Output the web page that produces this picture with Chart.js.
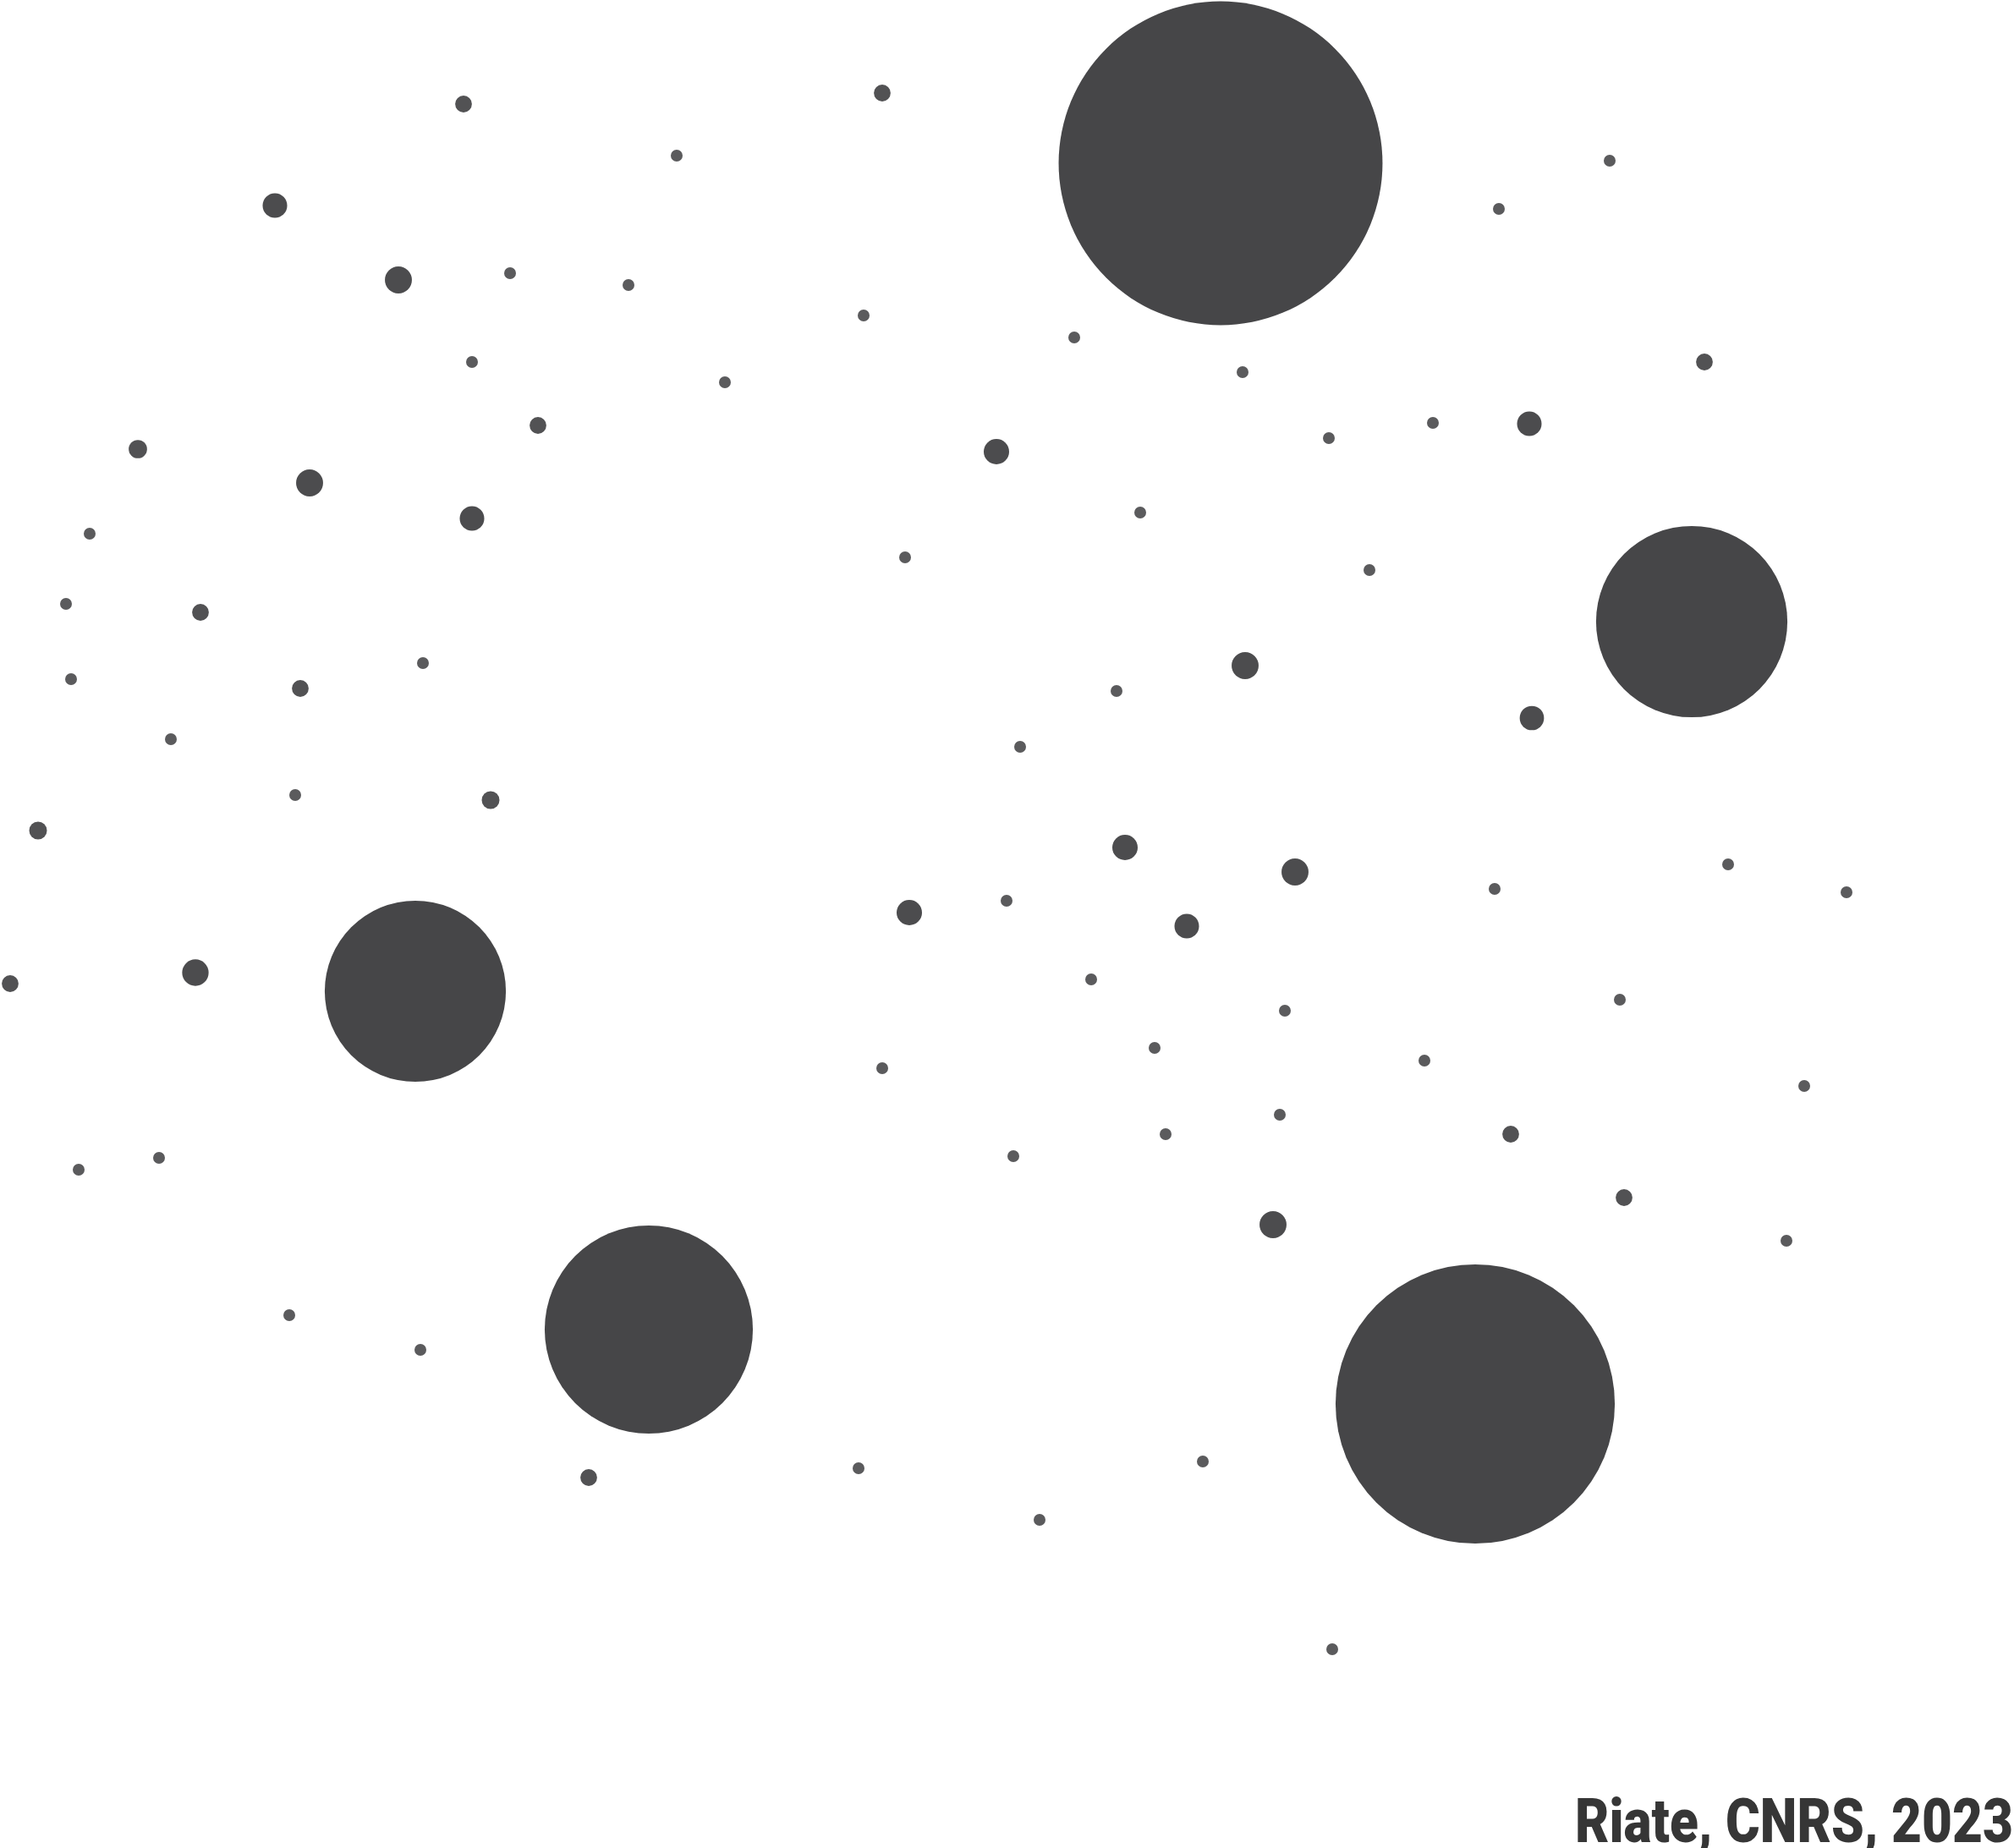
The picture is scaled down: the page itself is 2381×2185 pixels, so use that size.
<!DOCTYPE html>
<html>
<head>
<meta charset="utf-8">
<title>Riate, CNRS, 2023</title>
<script src="https://cdn.jsdelivr.net/npm/chart.js@4.4.1/dist/chart.umd.min.js"></script>
<style>
  html, body { margin: 0; padding: 0; background: #ffffff; }
  #map { display: block; }
</style>
</head>
<body>
<canvas id="map" width="2381" height="2185"></canvas>
<script>
// Place positions (map units) and the counted value of each place
const xs = [
  1443, 548, 1043, 800, 325, 471, 603, 743, 558, 636,
  163, 366, 558, 106, 1021, 857, 1270, 1178, 1348, 1070,
  1903, 1772, 1469, 1571, 1694, 1808, 2015, 1619, 1472, 1811,
  2000, 78, 237, 84, 355, 500, 202, 349, 580, 45,
  12, 231, 491, 1075, 1190, 1330, 1403, 1531, 1767, 1290,
  1519, 1365, 1043, 1684, 1513, 1378, 1198, 1505, 1786, 2043,
  2183, 1915, 2133, 1920, 2112, 93, 188, 342, 497, 767,
  696, 1015, 1422, 1229, 1575, 1744, 1320, 1206
];
const ys = [
  193, 123, 110, 184, 243, 331, 323, 337, 428, 503,
  531, 571, 613, 631, 373, 452, 399, 534, 606, 659,
  190, 247, 440, 518, 500, 501, 428, 674, 787, 849,
  735, 714, 724, 803, 814, 784, 874, 940, 946, 982,
  1163, 1150, 1172, 1079, 1065, 1002, 1095, 1031, 1051, 1158,
  1195, 1239, 1263, 1254, 1318, 1341, 1367, 1448, 1341, 1022,
  1055, 1182, 1284, 1416, 1467, 1383, 1369, 1555, 1596, 1572,
  1747, 1736, 1728, 1797, 1950, 1660, 817, 883
];
const counts = [
  748, 2, 2, 1, 4.3, 5.2, 1, 1, 1, 2,
  2.4, 5.2, 4.3, 1, 1, 1, 1, 4.6, 1, 1,
  1, 1, 1, 1, 1, 4.3, 2, 1, 5.2, 4.2,
  261, 1, 2, 1, 2, 1, 1, 1, 2.25, 2.25,
  2, 5, 234, 4.6, 1, 4.6, 4.3, 5.2, 1, 1,
  1, 1, 1, 1, 1, 1, 1, 5.2, 2, 1,
  1, 1, 1, 2, 1, 1, 1, 1, 1, 309,
  2, 1, 1, 1, 1, 556, 1, 1
];
const credit = 'Riate, CNRS, 2023';

const W = 2381, H = 2185;
const RADIUS_UNIT = 7; // radius of a circle worth 1, area proportional to value

function fillFor(v) {
  if (v <= 1) return '#5b5b5d';
  if (v <= 3) return '#525254';
  if (v <= 10) return '#4c4c4e';
  return '#464648';
}

const points = xs.map((x, i) => ({ x: x, y: ys[i], r: RADIUS_UNIT * Math.sqrt(counts[i]), v: counts[i] }));

// source line, bottom right
const creditPlugin = {
  id: 'credit',
  afterDraw(chart) {
    const ctx = chart.ctx;
    ctx.save();
    ctx.font = '900 72px Roboto, "Liberation Sans", sans-serif';
    ctx.fillStyle = '#363636';
    ctx.textAlign = 'right';
    ctx.textBaseline = 'alphabetic';
    const w = ctx.measureText(credit).width;
    const sx = 518 / w;
    ctx.translate(2380, 2178);
    ctx.scale(sx, 1);
    ctx.fillText(credit, 0, 0);
    ctx.restore();
  }
};

new Chart(document.getElementById('map'), {
  type: 'bubble',
  data: {
    datasets: [{
      data: points,
      backgroundColor: c => fillFor(c.raw ? c.raw.v : 1),
      borderWidth: 0,
      hoverBorderWidth: 0,
      clip: false
    }]
  },
  options: {
    responsive: false,
    devicePixelRatio: 1,
    animation: false,
    layout: { padding: 0, autoPadding: false },
    plugins: { legend: { display: false }, tooltip: { enabled: false } },
    scales: {
      x: { type: 'linear', min: 0, max: W, display: false },
      y: { type: 'linear', min: 0, max: H, reverse: true, display: false }
    }
  },
  plugins: [creditPlugin]
});
</script>
</body>
</html>
